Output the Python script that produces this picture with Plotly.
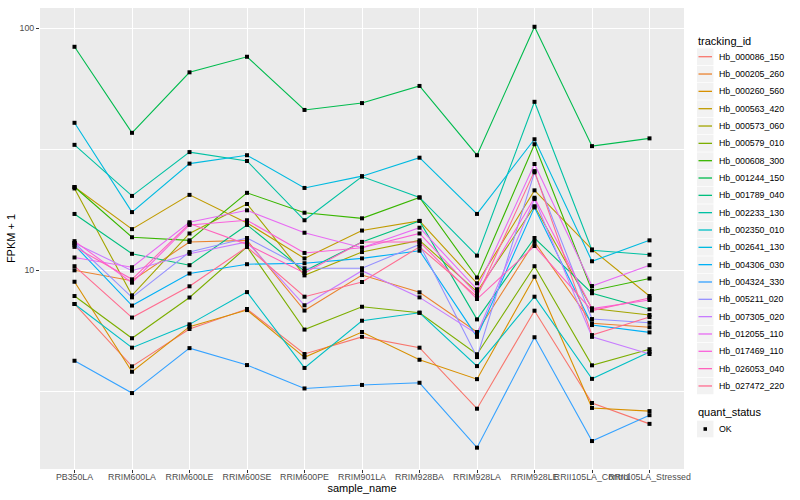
import plotly.graph_objects as go

sample_names = ["PB350LA", "RRIM600LA", "RRIM600LE", "RRIM600SE", "RRIM600PE",
                "RRIM901LA", "RRIM928BA", "RRIM928LA", "RRIM928LE",
                "RRII105LA_Control", "RRII105LA_Stressed"]

tracking_ids = ["Hb_000086_150", "Hb_000205_260", "Hb_000260_560", "Hb_000563_420",
                "Hb_000573_060", "Hb_000579_010", "Hb_000608_300", "Hb_001244_150",
                "Hb_001789_040", "Hb_002233_130", "Hb_002350_010", "Hb_002641_130",
                "Hb_004306_030", "Hb_004324_330", "Hb_005211_020", "Hb_007305_020",
                "Hb_012055_110", "Hb_017469_110", "Hb_026053_040", "Hb_027472_220"]

# FPKM + 1 values per gene, one per sample
hb_000086_150 = [7.26, 4.01, 5.72, 6.92, 4.51, 5.31, 4.79, 2.68, 6.81, 2.83, 2.32]
hb_000205_260 = [10.0, 9.06, 13.1, 13.3, 6.82, 9.56, 8.11, 5.56, 13.1, 6.04, 5.82]
hb_000260_560 = [8.97, 3.81, 5.85, 6.85, 4.37, 5.56, 4.27, 3.55, 9.41, 2.70, 2.62]
hb_000563_420 = [22.1, 14.8, 20.5, 15.7, 11.2, 14.6, 16.0, 8.84, 21.4, 12.2, 7.83]
hb_000573_060 = [21.8, 7.88, 14.2, 18.8, 9.53, 11.9, 13.3, 8.16, 18.4, 6.95, 6.54]
hb_000579_010 = [7.83, 5.24, 7.72, 12.5, 5.69, 7.07, 6.68, 4.50, 10.4, 4.05, 4.72]
hb_000608_300 = [22.1, 13.7, 13.3, 20.9, 17.3, 16.4, 20.0, 9.34, 33.2, 8.24, 9.25]
hb_001244_150 = [83.9, 37.0, 65.8, 76.3, 46.0, 49.1, 57.8, 29.9, 101.5, 32.6, 35.1]
hb_001789_040 = [17.1, 11.7, 10.5, 15.4, 9.93, 13.1, 16.0, 6.27, 13.6, 8.04, 6.90]
hb_002233_130 = [33.0, 20.3, 30.8, 28.3, 16.1, 24.4, 20.0, 11.5, 49.7, 12.1, 11.6]
hb_002350_010 = [7.26, 4.79, 5.98, 8.13, 3.95, 6.19, 6.68, 4.02, 7.78, 3.56, 4.60]
hb_002641_130 = [40.7, 17.4, 27.6, 29.9, 21.9, 24.5, 29.2, 17.1, 34.8, 10.9, 13.3]
hb_004306_030 = [12.7, 7.15, 9.70, 10.6, 10.7, 11.2, 12.05, 5.31, 18.2, 5.94, 5.54]
hb_004324_330 = [4.23, 3.11, 4.77, 4.06, 3.25, 3.36, 3.43, 1.85, 5.29, 1.97, 2.52]
hb_005211_020 = [12.97, 7.73, 11.9, 13.6, 10.2, 10.2, 12.8, 4.38, 25.4, 6.29, 6.07]
hb_007305_020 = [12.97, 9.96, 11.7, 13.1, 7.17, 9.96, 7.73, 5.46, 19.7, 5.31, 4.51]
hb_012055_110 = [11.3, 10.3, 15.8, 17.7, 14.3, 12.4, 15.0, 8.35, 27.5, 8.61, 10.5]
hb_017469_110 = [13.2, 8.89, 15.4, 16.1, 11.8, 12.4, 14.2, 7.96, 19.95, 6.95, 7.54]
hb_026053_040 = [12.5, 9.18, 15.6, 12.8, 9.75, 13.1, 13.1, 7.61, 12.6, 6.82, 7.68]
hb_027472_220 = [10.4, 6.38, 8.59, 12.5, 7.78, 8.95, 12.5, 7.78, 25.7, 5.40, 6.41]

series = [hb_000086_150, hb_000205_260, hb_000260_560, hb_000563_420, hb_000573_060,
          hb_000579_010, hb_000608_300, hb_001244_150, hb_001789_040, hb_002233_130,
          hb_002350_010, hb_002641_130, hb_004306_030, hb_004324_330, hb_005211_020,
          hb_007305_020, hb_012055_110, hb_017469_110, hb_026053_040, hb_027472_220]

quant_status = ["OK"]
y_breaks = [10, 100]
y_minor = [3.1623, 31.623]

colors = ["#F8766D", "#EA8331", "#D89000", "#C09B00", "#A3A500", "#7CAE00", "#39B600",
          "#00BB4E", "#00BF7D", "#00C1A3", "#00BFC4", "#00BAE0", "#00B0F6", "#35A2FF",
          "#9590FF", "#C77CFF", "#E76BF3", "#FA62DB", "#FF62BC", "#FF6C90"]

FONT = "Liberation Sans"
L, R, T, B = 40, 684, 8, 469


def px(xp, yp):
    return (xp - L) / (R - L), (B - yp) / (B - T)


fig = go.Figure()
for tid, vals, col in zip(tracking_ids, series, colors):
    fig.add_trace(go.Scatter(x=sample_names, y=vals, mode="lines", name=tid,
                             line=dict(color=col, width=1.1), showlegend=False))

xs = [s for vals in series for s in sample_names]
ys = [v for vals in series for v in vals]
fig.add_trace(go.Scatter(x=xs, y=ys, mode="markers", name=quant_status[0],
                         marker=dict(symbol="square", size=4, color="black"),
                         showlegend=False))

shapes = []
annotations = []

# legend: tracking_id
tx, ty = px(696, 40.7)
annotations.append(dict(x=tx, y=ty, xref="paper", yref="paper", text="tracking_id",
                        showarrow=False, xanchor="left", yanchor="middle",
                        font=dict(size=11, color="black", family=FONT)))
for i, (tid, col) in enumerate(zip(tracking_ids, colors)):
    yc = 56.7 + 17.33 * i
    x0, y0 = px(697, yc - 8.3)
    x1, y1 = px(713.5, yc + 8.3)
    shapes.append(dict(type="rect", xref="paper", yref="paper", x0=x0, x1=x1, y0=y0, y1=y1,
                       fillcolor="#F2F2F2", line=dict(width=0), layer="below"))
    lx0, ly = px(698.5, yc)
    lx1, _ = px(712, yc)
    shapes.append(dict(type="line", xref="paper", yref="paper", x0=lx0, x1=lx1, y0=ly, y1=ly,
                       line=dict(color=col, width=1.3)))
    ax, ay = px(716.5, yc)
    annotations.append(dict(x=ax, y=ay, xref="paper", yref="paper", text=tid,
                            showarrow=False, xanchor="left", yanchor="middle",
                            font=dict(size=8.8, color="black", family=FONT)))

# legend: quant_status
qx, qy = px(696, 412.3)
annotations.append(dict(x=qx, y=qy, xref="paper", yref="paper", text="quant_status",
                        showarrow=False, xanchor="left", yanchor="middle",
                        font=dict(size=11, color="black", family=FONT)))
yc = 429.0
x0, y0 = px(697, yc - 8.3)
x1, y1 = px(713.5, yc + 8.3)
shapes.append(dict(type="rect", xref="paper", yref="paper", x0=x0, x1=x1, y0=y0, y1=y1,
                   fillcolor="#F2F2F2", line=dict(width=0), layer="below"))
mx0, my0 = px(703.5, yc - 1.8)
mx1, my1 = px(707, yc + 1.8)
shapes.append(dict(type="rect", xref="paper", yref="paper", x0=mx0, x1=mx1, y0=my0, y1=my1,
                   fillcolor="black", line=dict(width=0)))
ax, ay = px(716.5, yc)
annotations.append(dict(x=ax, y=ay, xref="paper", yref="paper", text=quant_status[0],
                        showarrow=False, xanchor="left", yanchor="middle",
                        font=dict(size=8.8, color="black", family=FONT)))

fig.update_layout(
    width=800, height=500,
    margin=dict(l=L, r=800 - R, t=T, b=500 - B, pad=0),
    paper_bgcolor="white", plot_bgcolor="#EBEBEB",
    font=dict(family=FONT, size=11, color="black"),
    shapes=shapes, annotations=annotations,
    showlegend=False,
)
fig.update_xaxes(
    type="category", range=[-0.6, len(sample_names) - 0.4],
    showgrid=True, gridcolor="white", gridwidth=1.1,
    ticks="outside", ticklen=3, tickwidth=1, tickcolor="#333333",
    tickfont=dict(size=8.8, color="#4D4D4D", family=FONT), tickangle=0,
    ticklabelstandoff=-4,
    title=dict(text="sample_name", font=dict(size=11, color="black", family=FONT), standoff=0),
    zeroline=False, showline=False, automargin=False,
)
fig.update_yaxes(
    type="log", range=[0.179, 2.084],
    tickmode="array", tickvals=y_breaks, ticktext=[str(v) for v in y_breaks],
    showgrid=True, gridcolor="white", gridwidth=1.1,
    ticks="outside", ticklen=3, tickwidth=1, tickcolor="#333333",
    tickfont=dict(size=8.8, color="#4D4D4D", family=FONT),
    title=dict(text="FPKM + 1", font=dict(size=11, color="black", family=FONT), standoff=1),
    minor=dict(tickmode="array", tickvals=y_minor, showgrid=True,
               gridcolor="white", gridwidth=0.55, ticks=""),
    zeroline=False, showline=False, automargin=False,
)

fig.write_html("out.html", config={"displayModeBar": False},
               post_script="document.body.style.margin='0';")
